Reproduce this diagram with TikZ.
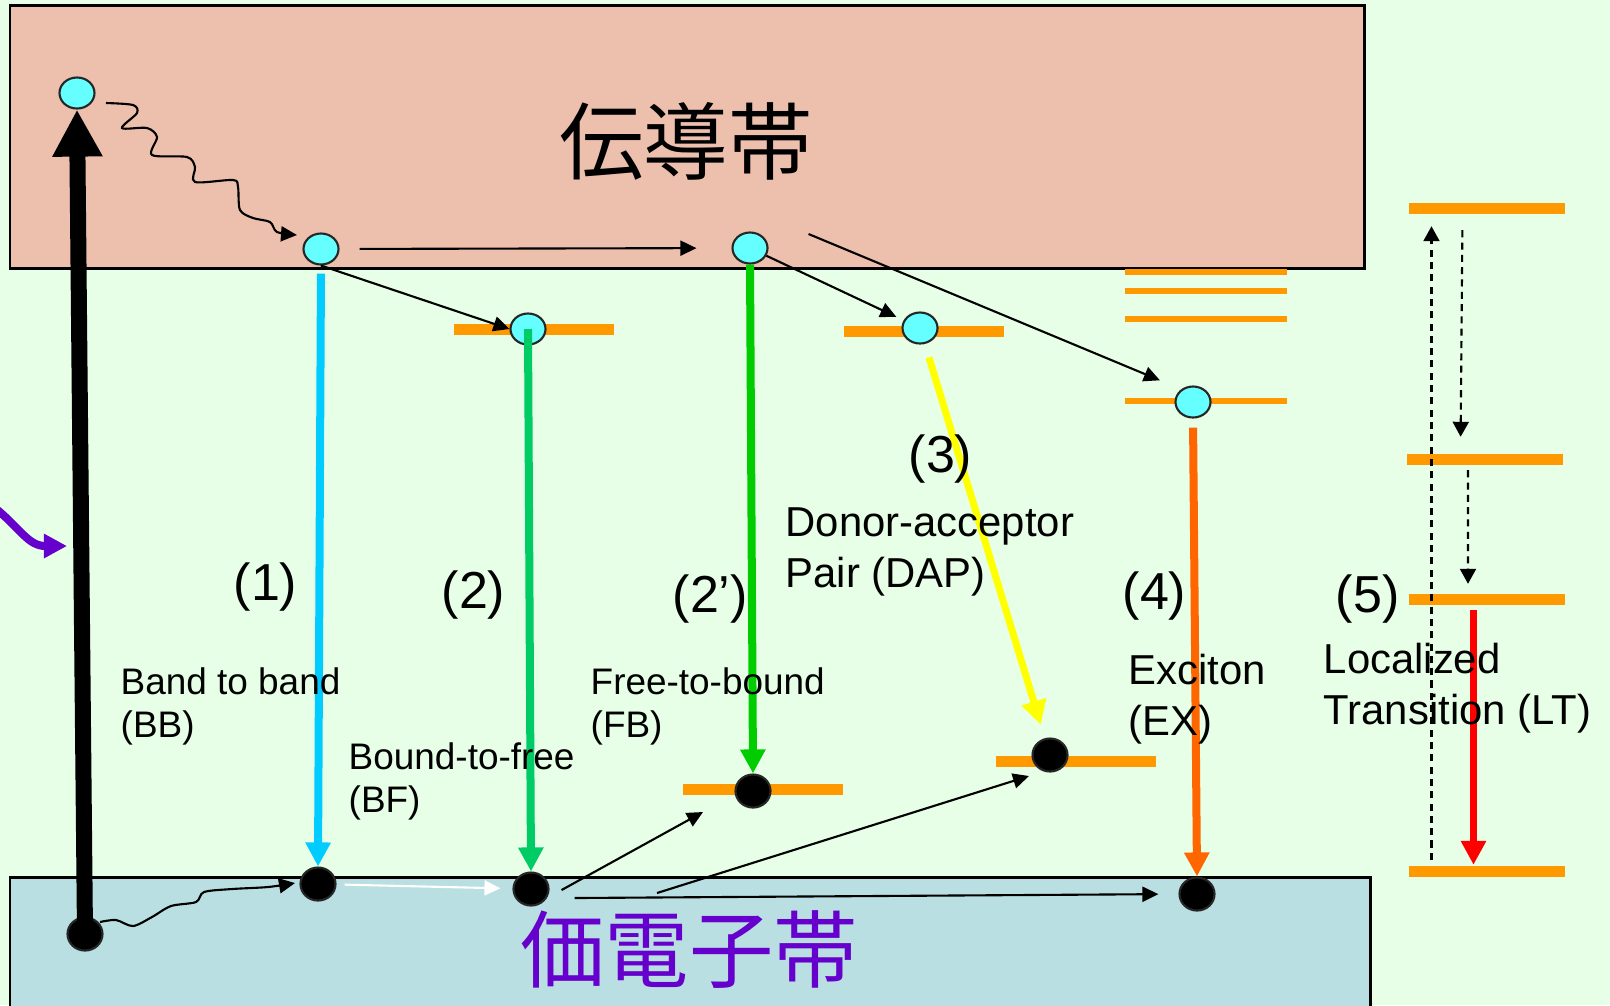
\documentclass[tikz,border=0pt]{standalone}
\usepackage{fontspec}
\setmainfont{Liberation Sans}
\newfontfamily\cjk{Noto Sans CJK JP}
\usetikzlibrary{arrows.meta,shapes.geometric}

\definecolor{bgcol}{RGB}{230,255,230}
\definecolor{cbcol}{RGB}{237,191,173}
\definecolor{vbcol}{RGB}{185,223,227}
\definecolor{elcol}{RGB}{102,255,255}
\definecolor{lvcol}{RGB}{255,153,0}
\definecolor{bbcol}{RGB}{0,204,255}
\definecolor{bfcol}{RGB}{0,204,102}
\definecolor{fbcol}{RGB}{0,204,0}
\definecolor{dapcol}{RGB}{255,255,0}
\definecolor{excol}{RGB}{255,102,0}
\definecolor{ltcol}{RGB}{255,0,0}
\definecolor{viola}{RGB}{102,0,204}

\newcommand{\fetic}{\fontsize{10.5}{12}\selectfont}
\newcommand{\fetbig}{\fontsize{11.9}{14.5}\selectfont}
\newcommand{\fnum}{\fontsize{14.8}{17}\selectfont}
\newcommand{\fband}{\cjk\fontsize{24}{24}\selectfont}

\tikzset{
	el/.style={ellipse, draw=black!85, line width=0.6pt, fill=elcol, minimum width=0.35cm, minimum height=0.31cm, inner sep=0pt},
	ho/.style={ellipse, draw=black!85, line width=0.6pt, fill=black, minimum width=0.35cm, minimum height=0.33cm, inner sep=0pt},
	bar/.style={fill=lvcol, inner sep=0pt, minimum width=1.6cm, minimum height=0.11cm},
	thinbar/.style={fill=lvcol, inner sep=0pt, minimum width=1.62cm, minimum height=0.06cm},
	trans/.style={line width=0.08cm, -{Triangle[length=0.24cm,width=0.24cm]}},
	salto/.style={line width=0.6pt, -{Triangle[length=0.16cm,width=0.15cm]}},
	tratt/.style={line width=0.6pt, dash pattern=on 2pt off 1.5pt, -{Triangle[length=0.15cm,width=0.16cm]}},
	etic/.style={anchor=base west, inner sep=0pt, align=left}
}

\begin{document}
\begin{tikzpicture}[x=0.01cm, y=-0.01cm]
	\path[use as bounding box, fill=bgcol] (0,0) rectangle (1610,1005);
	%Bande
	\draw[fill=cbcol, line width=0.85pt] (10,5) rectangle (1364,268);
	\draw[fill=vbcol, line width=0.85pt] (10,877) rectangle (1370,1020);
	\node[font=\fband] (cb) at (686,141) {伝導帯};
	\node[font=\fband, text=viola] (vb) at (689,950) {価電子帯};
	%Livelli
	\node[bar] (lbf) at (534,329) {};
	\node[bar] (ldd) at (924,331) {};
	\node[bar] (lfb) at (763,789) {};
	\node[bar] (lda) at (1076,761) {};
	\foreach \y in {272,291,319,401}
		\node[thinbar] at (1206,\y) {};
	\node[bar, minimum width=1.55cm] (lt1) at (1487,208) {};
	\node[bar, minimum width=1.55cm] (lt2) at (1485,459) {};
	\node[bar, minimum width=1.55cm] (lt3) at (1487,599) {};
	\node[bar, minimum width=1.55cm] (lt4) at (1487,871) {};
	%Elettroni
	\node[el] (e1) at (77,93) {};
	\node[el] (e2) at (321,249) {};
	\node[el] (e3) at (528,329) {};
	\node[el] (e4) at (750,248) {};
	\node[el] (e5) at (920,328) {};
	\node[el] (e6) at (1193,402) {};
	%Lacune
	\node[ho] (h1) at (85,934) {};
	\node[ho] (h2) at (318,884) {};
	\node[ho] (h3) at (531,889) {};
	\node[ho] (h4) at (753,791) {};
	\node[ho] (h5) at (1050,755) {};
	\node[ho] (h6) at (1197,894) {};
	%Eccitazione
	\draw[line width=0.16cm, -{Triangle[length=0.47cm,width=0.47cm]}] (h1.center) -- (e1.south);
	\coordinate (luce) at (-5,508);
	\coordinate (luce2) at (67,546);
	\draw[viola, line width=0.08cm, -{Triangle[length=0.23cm,width=0.23cm]}] (luce) .. controls (20,528) and (28,546) .. (luce2);
	%Rilassamento
	\draw[salto] plot[smooth, tension=0.5] coordinates {(106,103) (133,105) (137,113) (122,128) (147,128) (157,137) (152,155) (187,157) (195,167) (195,182) (233,180) (238,187) (240,210) (253,218) (270,222) (277,232) (297,235)};
	\draw[salto] plot[smooth, tension=0.5] coordinates {(100,922) (116,920) (133,926) (152,917) (171,906) (196,902) (204,892) (232,889) (268,887) (295,883)};
	\draw[salto] (e2.south) -- (e3.west);
	\draw[salto, shorten <=0.2cm, shorten >=0.35cm] (e2) -- (e4);
	\draw[salto, shorten >=0.08cm] (e4) -- (e5);
	\draw[salto] ([shift={(40,-14)}]e4.east) -- ([shift={(-20,-10)}]e6.north west);
	\draw[white, line width=0.6pt, -{Triangle[length=0.16cm,width=0.15cm]}, shorten <=0.08cm, shorten >=0.12cm] (h2) -- (h3);
	\draw[salto] ([shift={(12,1)}]h3.east) -- ([shift={(-50,21)}]h4.center);
	\draw[salto] ([shift={(126,4)}]h3.center) -- ([shift={(-21,21)}]h5.center);
	\draw[salto, shorten >=0.2cm] ([shift={(25,9)}]h3.east) -- (h6.west);
	%Transizioni
	\draw[trans, bbcol, shorten <=0.08cm] (e2.south) -- (h2.north);
	\draw[trans, bfcol] (e3.center) -- (h3.north);
	\draw[trans, fbcol] (e4.south) -- (h4.north);
	\draw[trans, dapcol, line width=0.07cm, shorten <=0.14cm, shorten >=0.14cm] (e5) -- (h5);
	\draw[trans, excol, shorten <=0.09cm] (e6.south) -- (h6.north);
	\draw[trans, ltcol, line width=0.07cm, shorten <=0.05cm] ([xshift=-0.135cm]lt3.south) -- ([xshift=-0.135cm]lt4.north);
	\draw[tratt, shorten <=0.05cm, shorten >=0.12cm] ([xshift=-0.555cm]lt4.north) -- ([xshift=-0.555cm]lt1.south);
	\draw[tratt, shorten <=0.16cm, shorten >=0.16cm] ([xshift=-0.245cm]lt1.south) -- ([xshift=-0.245cm]lt2.north);
	\draw[tratt, shorten <=0.05cm, shorten >=0.09cm] ([xshift=-0.17cm]lt2.south) -- ([xshift=-0.19cm]lt3.north);
	%Etichette (base = ultima riga)
	\node[etic, font=\fnum] (n1) at (233,600) {(1)};
	\node[etic, font=\fnum] (n2) at (441,608) {(2)};
	\node[etic, font=\fnum] (n2b) at (672,612) {(2’)};
	\node[etic, font=\fnum] (n3) at (908,472) {(3)};
	\node[etic, font=\fnum] (n4) at (1122,609) {(4)};
	\node[etic, font=\fnum] (n5) at (1335,612) {(5)};
	\node[etic, font=\fetic] (tbb) at (120,737) {Band to band\\(BB)};
	\node[etic, font=\fetic] (tbf) at (348,812) {Bound-to-free\\(BF)};
	\node[etic, font=\fetic] (tfb) at (590,737) {Free-to-bound\\(FB)};
	\node[etic, font=\fetbig] (tdap) at (785,587) {Donor-acceptor\\Pair (DAP)};
	\node[etic, font=\fetbig] (tex) at (1128,735) {Exciton\\(EX)};
	\node[etic, font=\fetbig] (tlt) at (1323,724) {Localized\\Transition (LT)};
\end{tikzpicture}
\end{document}
